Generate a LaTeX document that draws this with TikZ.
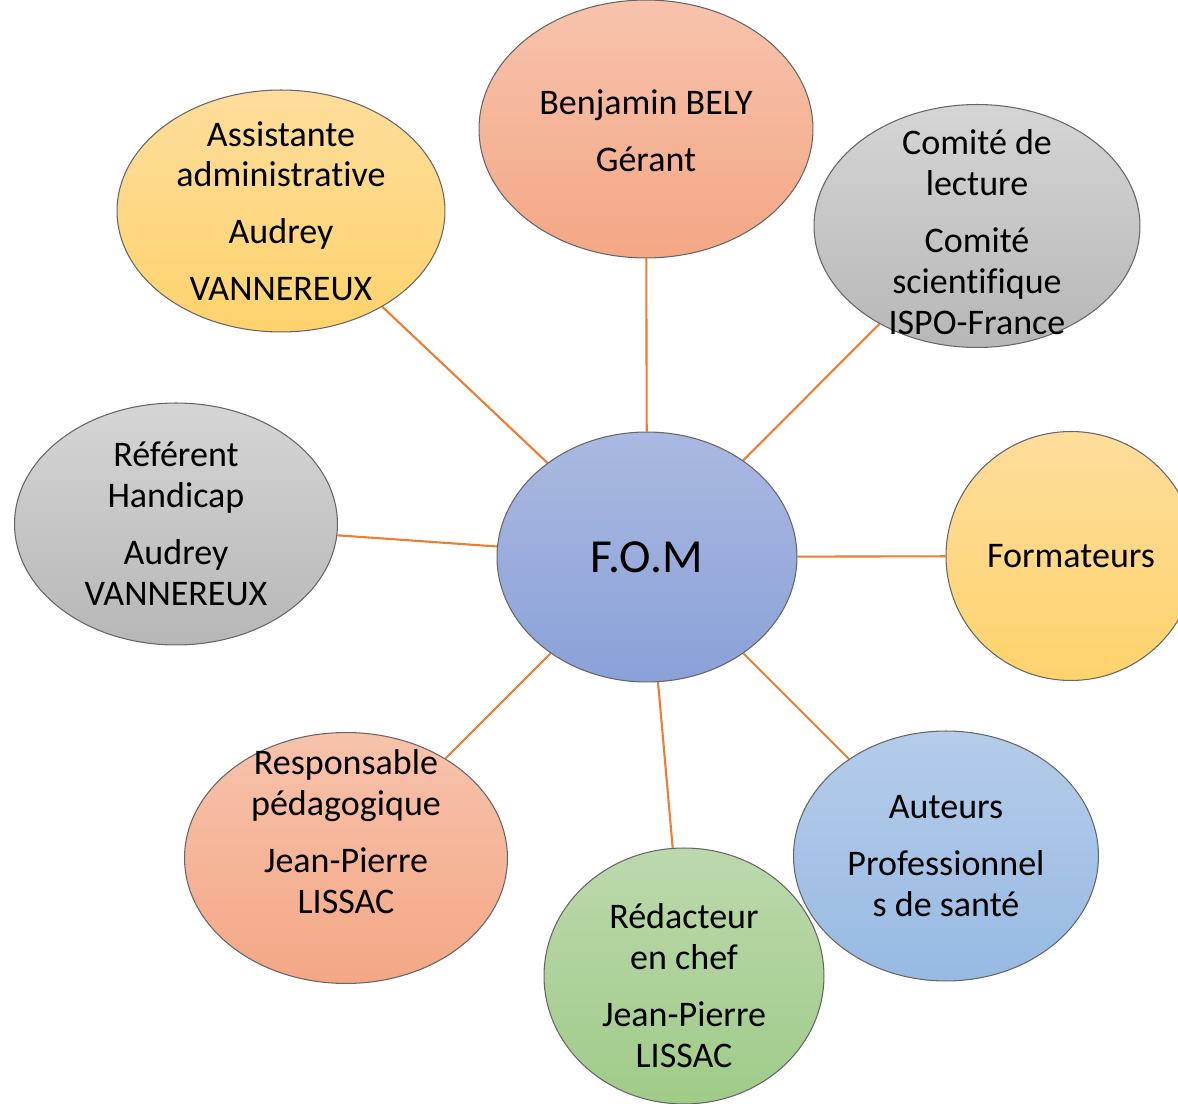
\documentclass[tikz,border=0pt]{standalone}
\usepackage{fontspec}
\setmainfont{Carlito}[Ligatures=NoCommon]
\usetikzlibrary{shapes.geometric,backgrounds}

\definecolor{linkorange}{HTML}{ED7D31}
\definecolor{fomtop}{HTML}{AAB9E1}
\definecolor{fombot}{HTML}{8AA1D8}
\definecolor{salmontop}{HTML}{F7C3AC}
\definecolor{salmonbot}{HTML}{F4A785}
\definecolor{yellowtop}{HTML}{FEDD9C}
\definecolor{yellowbot}{HTML}{FED36C}
\definecolor{greytop}{HTML}{D5D5D5}
\definecolor{greybot}{HTML}{B7B7B7}
\definecolor{skytop}{HTML}{B5CCEA}
\definecolor{skybot}{HTML}{97BAE3}
\definecolor{greentop}{HTML}{BCD9AD}
\definecolor{greenbot}{HTML}{9FCB88}

\begin{document}
\begin{tikzpicture}
	[x=0.02cm,y=-0.02cm,
	 bubble/.style 2 args={ellipse,draw=black!60,line width=0.6pt,inner sep=0pt,
	   top color=#1,bottom color=#2},
	 txt/.style={align=center,font=\fontsize{20.5}{23.3}\selectfont},
	 link/.style={draw=linkorange,line width=1.2pt}]
	\useasboundingbox (0,0) rectangle (1178,1104);

	% centre
	\node[bubble={fomtop}{fombot},minimum width=6cm,minimum height=5cm,
	  font=\fontsize{27}{32}\selectfont] (fom) at (647,557) {F.O.M};

	% people and groups around it
	\node[bubble={salmontop}{salmonbot},minimum width=6.68cm,minimum height=5.16cm,
	  label={[txt,yshift=-0.04cm]center:{Benjamin BELY\\[9pt]Gérant}}] (gerant) at (646,129) {};
	\node[bubble={yellowtop}{yellowbot},minimum width=6.56cm,minimum height=4.84cm,
	  label={[txt]center:{Assistante\\administrative\\[9pt]Audrey\\[9pt]VANNEREUX}}] (assist) at (281,211) {};
	\node[bubble={greytop}{greybot},minimum width=6.52cm,minimum height=4.86cm,
	  label={[txt,yshift=-0.12cm]center:{Comité de\\lecture\\[9pt]Comité\\scientifique\\ISPO-France}}] (comite) at (977,226) {};
	\node[bubble={greytop}{greybot},minimum width=6.46cm,minimum height=4.84cm,
	  label={[txt]center:{Référent\\Handicap\\[9pt]Audrey\\VANNEREUX}}] (referent) at (176,524) {};
	\node[bubble={yellowtop}{yellowbot},minimum width=5cm,minimum height=4.98cm,
	  label={[txt]center:{Formateurs}}] (formateurs) at (1071,556) {};
	\node[bubble={skytop}{skybot},minimum width=6.1cm,minimum height=5cm,
	  label={[txt]center:{Auteurs\\[9pt]Professionnel\\s de santé}}] (auteurs) at (946,856) {};
	\node[bubble={greentop}{greenbot},minimum width=5.6cm,minimum height=5.12cm,
	  label={[txt,yshift=-0.19cm]center:{Rédacteur\\en chef\\[9pt]Jean-Pierre\\LISSAC}}] (redac) at (684,976) {};
	\node[bubble={salmontop}{salmonbot},minimum width=6.46cm,minimum height=5.02cm,
	  label={[txt,yshift=0.53cm]center:{Responsable\\pédagogique\\[9pt]Jean-Pierre\\LISSAC}}] (resp) at (346,858) {};

	% spokes
	\begin{scope}[on background layer]
		\foreach \n in {gerant,assist,comite,referent,formateurs,auteurs,redac,resp}
			\draw[link] (fom) -- (\n);
	\end{scope}
\end{tikzpicture}
\end{document}
